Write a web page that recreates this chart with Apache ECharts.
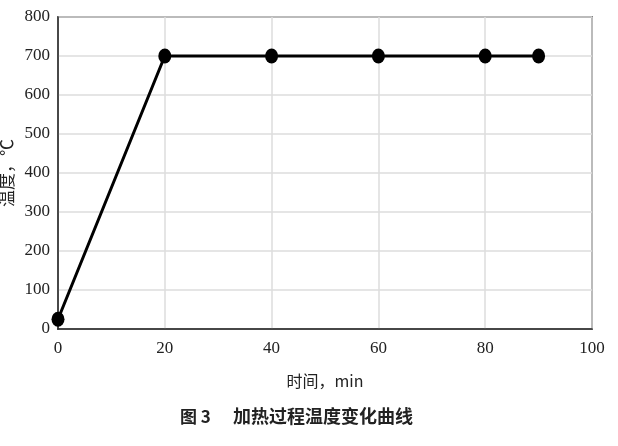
<!DOCTYPE html>
<html>
<head>
<meta charset="utf-8">
<script src="https://cdn.jsdelivr.net/npm/echarts@6/dist/echarts.min.js"></script>
<style>
  html, body { margin: 0; padding: 0; background: #fff; }
  #chart { width: 618px; height: 446px; }
</style>
</head>
<body>
<div id="chart"></div>
<script>
// heating time (min) and furnace temperature (℃)
const timeMin = [0, 20, 40, 60, 80, 90];
const tempC = [25, 700, 700, 700, 700, 700];
const xTicks = [0, 20, 40, 60, 80, 100];
const yTicks = [0, 100, 200, 300, 400, 500, 600, 700, 800];

const chart = echarts.init(document.getElementById('chart'));

const serif = '"Liberation Serif", "DejaVu Serif", serif';
const cjk = '"Noto Sans CJK SC", ' + serif;
const points = timeMin.map((t, i) => [t, tempC[i]]);

const option = {
    animation: false,
    backgroundColor: '#fff',
    grid: {
        left: 58,
        right: 26,
        top: 17,
        bottom: 117,
        outerBoundsMode: 'none',
        containLabel: false,
        show: true,
        borderColor: '#222',
        borderWidth: 1.5
    },
    xAxis: {
        type: 'value',
        min: xTicks[0],
        max: xTicks[xTicks.length - 1],
        interval: 20,
        name: '时间，min',
        nameLocation: 'middle',
        nameGap: 44,
        nameMoveOverlap: false,
        nameTextStyle: {color: '#222', fontSize: 16, fontFamily: cjk},
        axisLine: {show: true, lineStyle: {color: '#222', width: 1.5}},
        axisTick: {show: false},
        axisLabel: {color: '#222', fontSize: 17, fontFamily: serif, margin: 11},
        splitLine: {show: true, lineStyle: {color: '#dcdcdc', width: 1.5}}
    },
    yAxis: {
        type: 'value',
        min: yTicks[0],
        max: yTicks[yTicks.length - 1],
        interval: 100,
        name: '温度，℃',
        nameLocation: 'middle',
        nameGap: 43,
        nameMoveOverlap: false,
        nameTextStyle: {color: '#222', fontSize: 17, fontFamily: cjk},
        axisLine: {show: true, lineStyle: {color: '#222', width: 1.5}},
        axisTick: {show: false},
        axisLabel: {color: '#222', fontSize: 17, fontFamily: serif, margin: 8},
        splitLine: {show: true, lineStyle: {color: '#dcdcdc', width: 1.5}}
    },
    graphic: [{
        type: 'text',
        left: 180,
        top: 408,
        style: {
            text: '图 3',
            fill: '#222',
            font: 'bold 17px "Noto Sans CJK SC", sans-serif'
        }
    }, {
        type: 'text',
        left: 233,
        top: 407,
        style: {
            text: '加热过程温度变化曲线',
            fill: '#222',
            font: 'bold 18px "Noto Sans CJK SC", sans-serif'
        }
    }],
    series: [{
        type: 'line',
        data: points,
        symbol: 'circle',
        symbolSize: [13, 15],
        itemStyle: {color: '#000'},
        lineStyle: {color: '#000', width: 3},
        clip: false
    }]
};

chart.setOption(option, true);
</script>
</body>
</html>
